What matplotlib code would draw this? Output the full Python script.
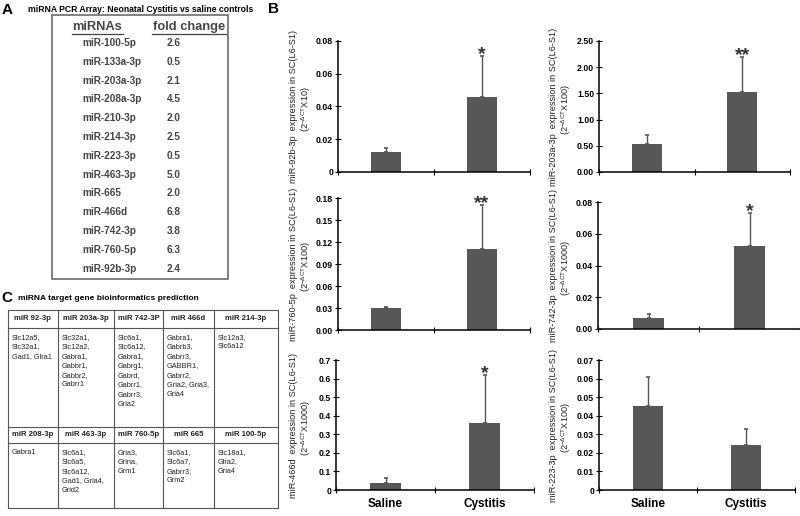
import matplotlib
matplotlib.use('Agg')
import matplotlib.pyplot as plt

plt.rcParams['font.family'] = ['Liberation Sans', 'DejaVu Sans']
plt.rcParams['mathtext.fontset'] = 'custom'
plt.rcParams['mathtext.rm'] = 'Liberation Sans'
plt.rcParams['mathtext.it'] = 'Liberation Sans'

# ---- panel A data ----
mirnas = ['miR-100-5p', 'miR-133a-3p', 'miR-203a-3p', 'miR-208a-3p', 'miR-210-3p',
          'miR-214-3p', 'miR-223-3p', 'miR-463-3p', 'miR-665', 'miR-466d',
          'miR-742-3p', 'miR-760-5p', 'miR-92b-3p']
fold_change = [2.6, 0.5, 2.1, 4.5, 2.0, 2.5, 0.5, 5.0, 2.0, 6.8, 3.8, 6.3, 2.4]

# ---- panel C data ----
targets_head1 = ['miR 92-3p', 'miR 203a-3p', 'miR 742-3P', 'miR 466d', 'miR 214-3p']
targets_genes1 = ['Slc12a5,\nSlc32a1,\nGad1, Glra1',
                  'Slc32a1,\nSlc12a2,\nGabra1,\nGabbr1,\nGabbr2,\nGabrr1',
                  'Slc6a1,\nSlc6a12,\nGabra1,\nGabrg1,\nGabrd,\nGabrr1,\nGabrr3,\nGria2',
                  'Gabra1,\nGabrb3,\nGabrr3,\nGABBR1,\nGabrr2,\nGria2, Gria3,\nGria4',
                  'Slc12a3,\nSlc6a12']
targets_head2 = ['miR 208-3p', 'miR 463-3p', 'miR 760-5p', 'miR 665', 'miR 100-5p']
targets_genes2 = ['Gabra1',
                  'Slc6a1,\nSlc6a5,\nSlc6a12,\nGad1, Gria4,\nGrid2',
                  'Gria3,\nGrina,\nGrm1',
                  'Slc6a1,\nSlc6a7,\nGabrr3,\nGrm2',
                  'Slc18a1,\nGlra2,\nGria4']

# ---- panel B data ----
groups = ['Saline', 'Cystitis']
panel_mirs = ['miR-92b-3p', 'miR-203a-3p', 'miR-760-5p', 'miR-742-3p', 'miR-466d', 'miR-223-3p']
panel_scale = ['X10', 'X100', 'X100', 'X1000', 'X1000', 'X100']
saline_mean = [0.0125, 0.53, 0.030, 0.007, 0.038, 0.045]
saline_err = [0.002, 0.18, 0.002, 0.0025, 0.027, 0.016]
cystitis_mean = [0.0455, 1.52, 0.110, 0.052, 0.36, 0.0245]
cystitis_err = [0.0255, 0.68, 0.061, 0.021, 0.26, 0.0085]
stars = ['*', '**', '**', '*', '*', '']
yticks = [[0, 0.02, 0.04, 0.06, 0.08],
          [0, 0.5, 1.0, 1.5, 2.0, 2.5],
          [0, 0.03, 0.06, 0.09, 0.12, 0.15, 0.18],
          [0, 0.02, 0.04, 0.06, 0.08],
          [0, 0.1, 0.2, 0.3, 0.4, 0.5, 0.6, 0.7],
          [0, 0.01, 0.02, 0.03, 0.04, 0.05, 0.06, 0.07]]
ytick_fmt = ['{:g}', '{:.2f}', '{:.2f}', '{:.2f}', '{:g}', '{:g}']

# pixel boxes of the six bar axes (x0, x1, ytop, ybottom)
boxes = [(338, 530, 41, 172), (599, 790, 41, 172),
         (338, 530, 198, 330), (598, 800, 202, 329),
         (336, 534, 360, 490), (599, 795, 360, 490)]

W, H = 800, 516
fig = plt.figure(figsize=(8, 5.16), dpi=100)
ov = fig.add_axes([0, 0, 1, 1])
ov.set_xlim(0, W)
ov.set_ylim(H, 0)
ov.axis('off')

tc = '#444444'

# ---- panel A ----
ov.text(2, 10, 'A', fontsize=11, fontweight='bold', va='center')
ov.text(28, 10, 'miRNA PCR Array: Neonatal Cystitis vs saline controls',
        fontsize=6.2, fontweight='bold', va='center')
ov.add_patch(plt.Rectangle((52, 15), 176, 264, fill=False, ec='#777777', lw=1.3))
ov.text(97, 27, 'miRNAs', fontsize=9.3, fontweight='bold', color=tc, ha='center', va='center')
ov.text(189, 27, 'fold change', fontsize=9.3, fontweight='bold', color=tc, ha='center', va='center')
ov.plot([72, 123], [33.5, 33.5], color=tc, lw=0.9)
ov.plot([152, 226], [33.5, 33.5], color=tc, lw=0.9)
for i, (m, v) in enumerate(zip(mirnas, fold_change)):
    y = 43 + i * 18.8
    ov.text(82, y, m, fontsize=7.2, fontweight='bold', color=tc, va='center')
    ov.text(167, y, f'{v:.1f}', fontsize=7.2, fontweight='bold', color=tc, va='center')

# ---- panel C ----
ov.text(1, 298, 'C', fontsize=11, fontweight='bold', va='center')
ov.text(18, 298, 'miRNA target gene bioinformatics prediction',
        fontsize=6.0, fontweight='bold', va='center')
cols = [8, 58, 114, 163, 214, 278]
rows = [310, 328, 427, 443, 508]
lc = '#555555'
for x in cols:
    ov.plot([x, x], [rows[0], rows[-1]], color=lc, lw=0.8)
for y in rows:
    ov.plot([cols[0], cols[-1]], [y, y], color=lc, lw=0.8)
for k in range(5):
    xc = (cols[k] + cols[k + 1]) / 2
    ov.text(xc, (rows[0] + rows[1]) / 2, targets_head1[k], fontsize=5.6, fontweight='bold',
            ha='center', va='center', color='#222222')
    ov.text(xc, (rows[2] + rows[3]) / 2, targets_head2[k], fontsize=5.6, fontweight='bold',
            ha='center', va='center', color='#222222')
    ov.text(cols[k] + 4, rows[1] + 6, targets_genes1[k], fontsize=5.3, va='top',
            linespacing=1.5, color='#222222')
    ov.text(cols[k] + 4, rows[3] + 6, targets_genes2[k], fontsize=5.3, va='top',
            linespacing=1.5, color='#222222')

# ---- panel B ----
ov.text(268, 9, 'B', fontsize=11, fontweight='bold', va='center')

for i in range(6):
    x0, x1, yt, yb = boxes[i]
    ax = fig.add_axes([x0 / W, 1 - yb / H, (x1 - x0) / W, (yb - yt) / H])
    ax.patch.set_alpha(0)
    means = [saline_mean[i], cystitis_mean[i]]
    errs = [saline_err[i], cystitis_err[i]]
    ax.bar([0, 1], means, width=0.31, color='#575757', zorder=2)
    ax.errorbar([0, 1], means, yerr=[[0, 0], errs], fmt='none', ecolor='#555555',
                elinewidth=1.0, capsize=1.5, capthick=1.2, zorder=1)
    if stars[i]:
        ax.annotate(stars[i], (1, means[1] + errs[1]), xytext=(0, 1), textcoords='offset points',
                    ha='center', va='center', fontsize=14, fontweight='bold', color='#333333')
    ax.set_xlim(-0.5, 1.5)
    ax.set_ylim(0, yticks[i][-1])
    ax.set_yticks(yticks[i])
    ax.set_yticklabels([ytick_fmt[i].format(t) for t in yticks[i]], fontsize=6.3, fontweight='bold')
    ax.set_xticks([-0.5, 0.5, 1.5])
    ax.set_xticklabels([])
    ax.tick_params(axis='y', direction='inout', length=4, width=0.8, pad=1.5)
    ax.tick_params(axis='x', direction='inout', length=4, width=0.8)
    for s in ['top', 'right']:
        ax.spines[s].set_visible(False)
    for s in ['left', 'bottom']:
        ax.spines[s].set_linewidth(1.1)
    if i >= 4:
        for g, xg in zip(groups, [0, 1]):
            ov.text(x0 + (xg + 0.5) / 2 * (x1 - x0), 504, g, fontsize=8.5, fontweight='bold',
                    ha='center', va='center')
    lx = 294 if i % 2 == 0 else 554
    yc = (yt + yb) / 2
    ov.text(lx, yc, panel_mirs[i] + '  expression in SC(L6-S1)', rotation=90,
            fontsize=6.6, ha='center', va='center', color='#222222')
    ov.text(lx + 12, yc + 3, '(2$^{-\\Delta CT}$' + panel_scale[i] + ')', rotation=90,
            fontsize=6.6, ha='center', va='center', color='#222222')

fig.savefig('out.png', dpi=100)
